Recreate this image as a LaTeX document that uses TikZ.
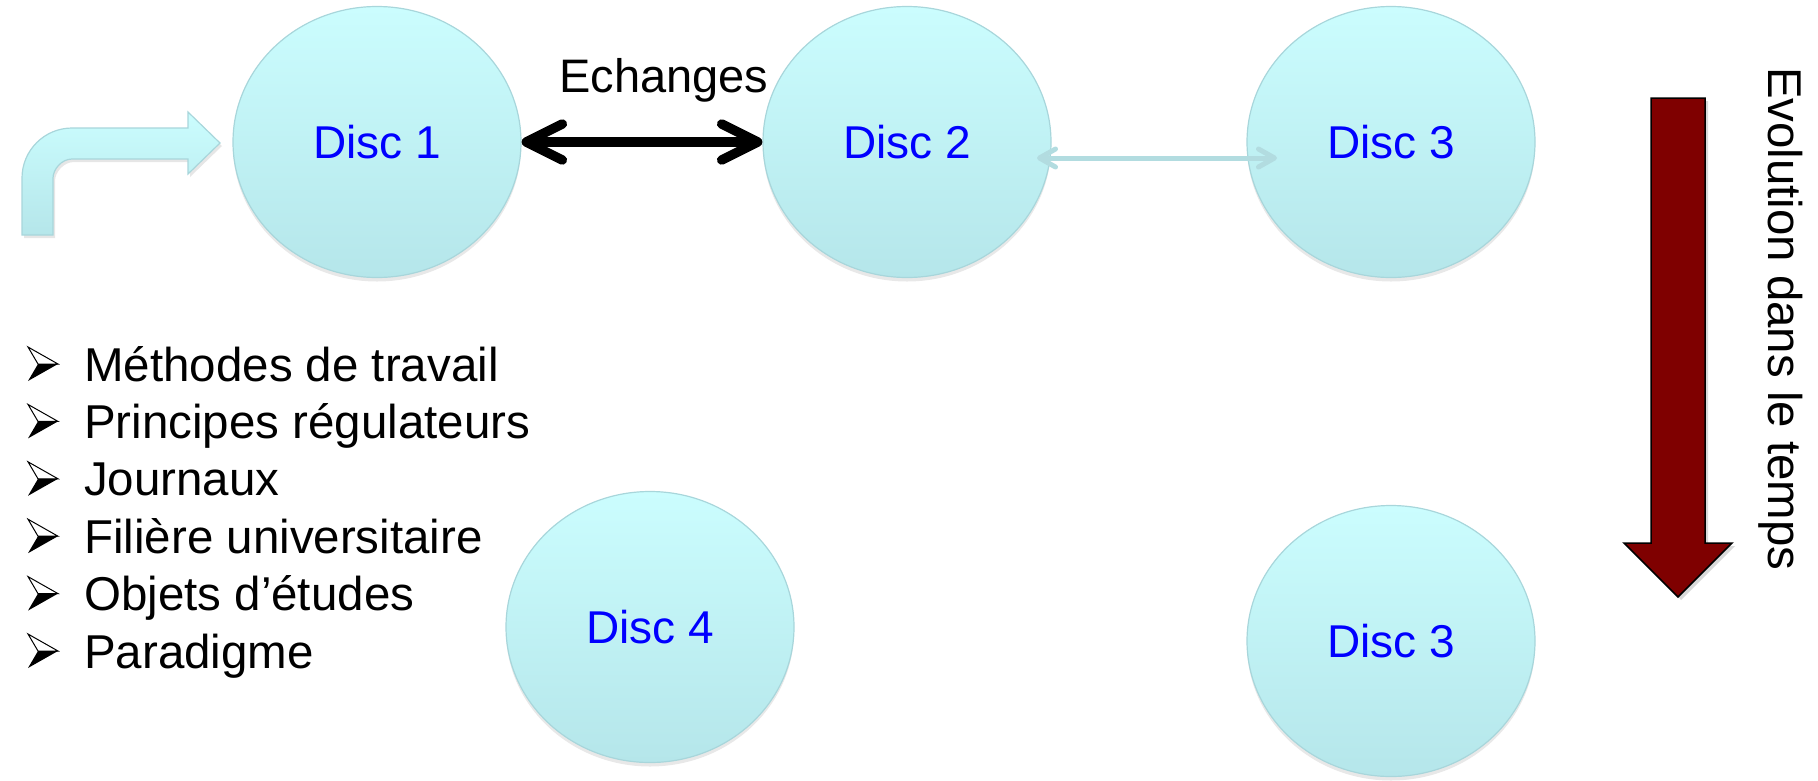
\documentclass[tikz,border=0pt]{standalone}
\usepackage{fontspec}
\setmainfont{Liberation Sans}
\usetikzlibrary{shapes.geometric,arrows.meta,shadows,calc}

\definecolor{discTop}{HTML}{CBFDFE}
\definecolor{discBot}{HTML}{B5E6EA}
\definecolor{discEdge}{HTML}{A8D6DB}
\definecolor{linkLight}{HTML}{B2DCE0}
\definecolor{timeRed}{HTML}{7F0000}
\definecolor{discText}{HTML}{0000FF}

\begin{document}
\begin{tikzpicture}[x=1pt,y=-1pt,
  bigfont/.style={font=\fontsize{46}{55}\selectfont},
  listfont/.style={font=\fontsize{47.5}{57}\selectfont},
  disc/.style={ellipse, minimum width=288pt, minimum height=271pt, inner sep=0pt,
    top color=discTop, bottom color=discBot, draw=discEdge, line width=1.2pt,
    text=discText, bigfont,
    drop shadow={opacity=0.18, shadow xshift=0pt, shadow yshift=-4pt}},
  exchange/.style={line width=9.5pt, draw=black,
    {Straight Barb[length=36pt,width=36pt,round]}-{Straight Barb[length=36pt,width=36pt,round]}},
  softlink/.style={line width=5pt, draw=linkLight,
    {Straight Barb[length=16pt,width=18pt,round]}-{Straight Barb[length=16pt,width=18pt,round]}},
  bentarrow/.style={top color=discTop, bottom color=discBot, draw=discEdge, line width=1.2pt,
    drop shadow={opacity=0.2, shadow xshift=2pt, shadow yshift=-3pt}},
  timearrow/.style={fill=timeRed, draw=black, line width=1.5pt, line join=miter,
    drop shadow={opacity=0.3, shadow xshift=3pt, shadow yshift=-3pt}},
  bulletarrow/.pic={
    \filldraw[fill=white, draw=black, line width=1pt, line join=miter]
      (0,-34) -- (30,-17) -- (10,-17) -- cycle;
    \fill[black] (10,-17) -- (30,-17) -- (0,0) -- cycle;
  }]

\useasboundingbox (0,0) rectangle (1818,780);

% entry arrow bending into the first discipline
\path[bentarrow] (22,235) -- (22,178)
  .. controls (22,150.4) and (44.4,128) .. (72,128)
  -- (188,128) -- (188,112) -- (220,143) -- (188,174) -- (188,159) -- (72,159)
  .. controls (61.5,159) and (53,169.5) .. (53,178)
  -- (53,235) -- cycle;

% disciplines
\node[disc] (d1) at (377,142) {Disc 1};
\node[disc] (d2) at (907,142) {Disc 2};
\node[disc] (d3) at (1391,142) {Disc 3};
\node[disc] (d4) at (650,627) {Disc 4};
\node[disc] (d5) at (1391,641) {Disc 3};

% exchanges
\draw[exchange] (d1) -- (d2);
\node[font=\fontsize{47}{56}\selectfont, anchor=base, inner sep=0pt] (echg) at (664,92) {Echanges};

\coordinate (s2) at ($(d2.center)+(130,16)$);
\coordinate (s3) at ($(d3.center)+(-114,16)$);
\draw[softlink] (s2) -- (s3);

% list of shared features
\foreach \txt [count=\i] in {Méthodes de travail, Principes régulateurs, Journaux,
    Filière universitaire, Objets d’études, Paradigme} {
  \node[listfont, anchor=base west, inner sep=0pt] (item\i) at (84,{381+(\i-1)*57.4}) {\txt};
  \pic at (28,{381+(\i-1)*57.4}) {bulletarrow};
}

% time axis
\path[timearrow] (1651,98) -- (1705,98) -- (1705,543) -- (1732,543)
  -- (1678,597) -- (1624,543) -- (1651,543) -- cycle;
\node[rotate=-90, font=\fontsize{47.4}{56}\selectfont, inner sep=0pt, anchor=base west]
  (evo) at (1768,67) {Evolution dans le temps};

\end{tikzpicture}
\end{document}
